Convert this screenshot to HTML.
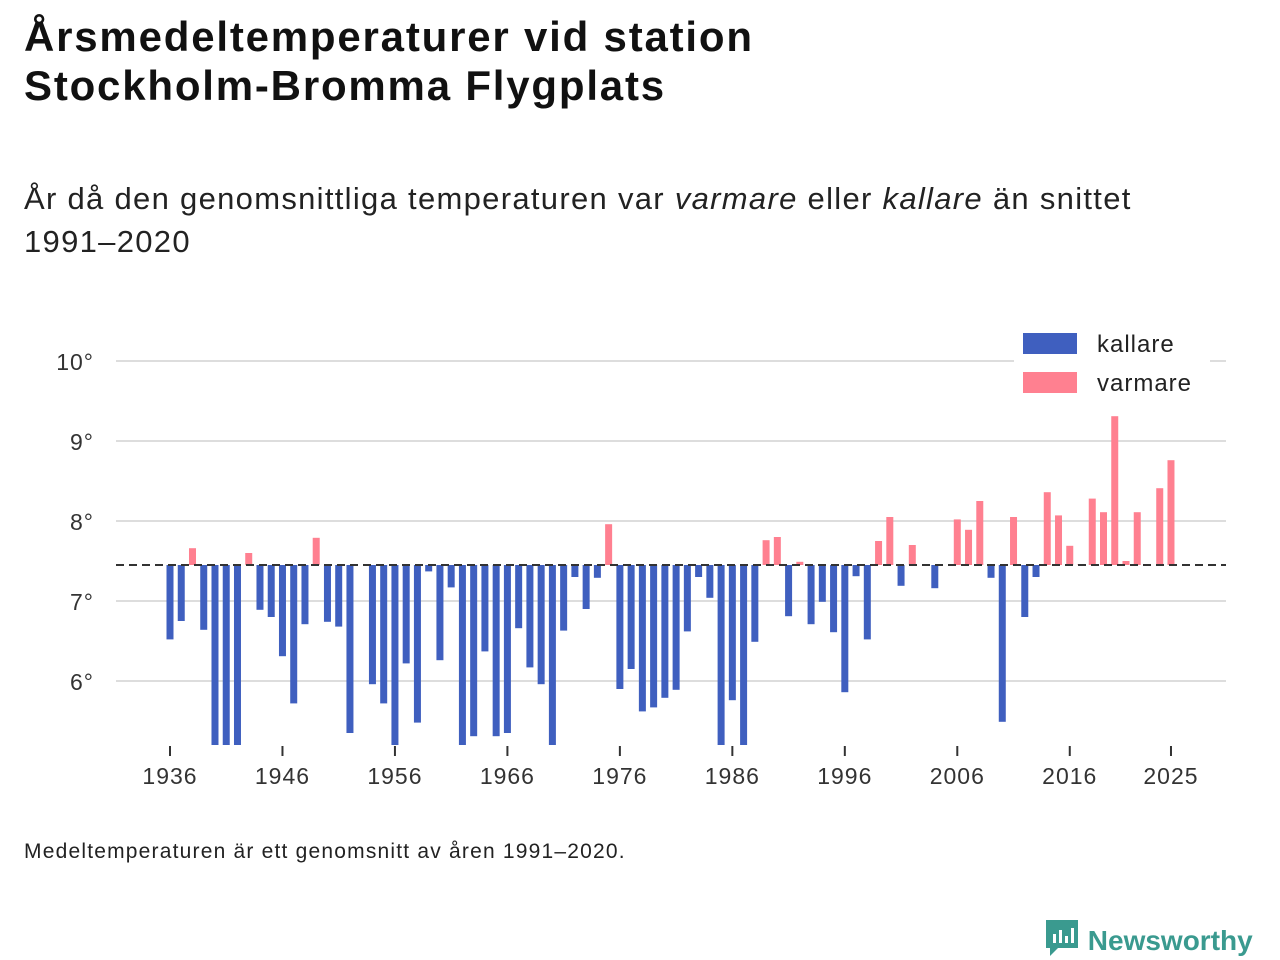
<!DOCTYPE html>
<html><head><meta charset="utf-8"><style>
body{margin:0;width:1280px;height:960px;background:#fff;font-family:"Liberation Sans","DejaVu Sans",sans-serif;color:#111;position:relative;overflow:hidden}
.t{position:absolute;left:24px;top:12px;font-size:42px;font-weight:bold;line-height:49px;letter-spacing:1.8px}
.s{position:absolute;left:24px;top:177px;font-size:31px;line-height:43px;color:#222;letter-spacing:1.3px}
.f{position:absolute;left:24px;top:840px;font-size:21px;color:#222;letter-spacing:1.2px}
.logo{position:absolute;left:1044px;top:918px;font-size:28px;font-weight:bold;color:#3a9a8f}
</style></head><body>
<div class="t">Årsmedeltemperaturer vid station<br>Stockholm-Bromma Flygplats</div>
<div class="s">År då den genomsnittliga temperaturen var <i>varmare</i> eller <i>kallare</i> än snittet<br>1991–2020</div>
<svg id="c" width="1280" height="960" style="position:absolute;left:0;top:0"></svg>
<div class="f">Medeltemperaturen är ett genomsnitt av åren 1991–2020.</div>
<div class="logo"><svg width="36" height="40" viewBox="0 0 36 40" style="vertical-align:-8px"><path d="M2 2h32v28H14l-8 8v-8H2z" fill="#3a9a8f"/><rect x="9" y="16" width="3" height="9" fill="#fff"/><rect x="15" y="12" width="3" height="13" fill="#fff"/><rect x="21" y="18" width="3" height="7" fill="#fff"/><rect x="27" y="10" width="3" height="15" fill="#fff"/></svg> Newsworthy</div>
<script>
const years=[];for(let y=1936;y<=2025;y++)years.push(y);
const values=[6.52,6.75,7.66,6.64,5.2,5.2,5.2,7.6,6.89,6.8,6.31,5.72,6.71,7.79,6.74,6.68,5.35,null,5.96,5.72,5.2,6.22,5.48,7.37,6.26,7.17,5.2,5.31,6.37,5.31,5.35,6.66,6.17,5.96,5.2,6.63,7.3,6.9,7.29,7.96,5.9,6.15,5.62,5.67,5.79,5.89,6.62,7.3,7.04,5.2,5.76,5.2,6.49,7.76,7.8,6.81,7.49,6.71,6.99,6.61,5.86,7.31,6.52,7.75,8.05,7.19,7.7,null,7.16,null,8.02,7.89,8.25,7.29,5.49,8.05,6.8,7.3,8.36,8.07,7.69,7.46,8.28,8.11,9.31,7.5,8.11,null,8.41,8.76];
const baseline=7.45;
const yTicks=[6,7,8,9,10];
const xTicks=[1936,1946,1956,1966,1976,1986,1996,2006,2016,2025];
const svg=document.getElementById('c');const NS='http://www.w3.org/2000/svg';
const X=y=>170+(y-1936)*11.247;const Y=v=>601-(v-7)*80;
function mk(t,a){const e=document.createElementNS(NS,t);for(const k in a)e.setAttribute(k,a[k]);svg.appendChild(e);return e;}
yTicks.forEach(v=>{const l=mk('line',{x1:116,x2:1226,y1:Y(v),y2:Y(v),stroke:'#ddd','stroke-width':2});


const t=mk('text',{x:94,y:Y(v)+9,'text-anchor':'end','font-size':23,fill:'#333','font-family':'Liberation Sans, sans-serif','letter-spacing':1});t.textContent=v+'°';

});
xTicks.forEach(y=>{const l=mk('line',{x1:X(y),x2:X(y),y1:746,y2:756,stroke:'#333','stroke-width':2});


const t=mk('text',{x:X(y),y:784,'text-anchor':'middle','font-size':23,fill:'#333','font-family':'Liberation Sans, sans-serif','letter-spacing':1});t.textContent=y;

});
values.forEach((v,i)=>{if(v==null)return;const y0=Y(baseline),y1=Y(v);
const r=mk('rect',{x:X(years[i])-3.5,width:7,y:Math.min(y0,y1),height:Math.abs(y1-y0),fill:v>=baseline?'#ff8090':'#3f5fbf'});

});
const bl=mk('line',{x1:116,x2:1226,y1:Y(baseline),y2:Y(baseline),stroke:'#333','stroke-width':2,'stroke-dasharray':'8,5'});


const lg=mk('rect',{x:1014,y:328,width:196,height:74,fill:'#fff'});


[['kallare','#3f5fbf',333],['varmare','#ff8090',372]].forEach(([n,c,y])=>{
const r=mk('rect',{x:1023,y:y,width:54,height:21,fill:c});


const t=mk('text',{x:1097,y:y+19,'font-size':24,fill:'#222','font-family':'Liberation Sans, sans-serif','letter-spacing':1});t.textContent=n;

});
</script>
</body></html>
